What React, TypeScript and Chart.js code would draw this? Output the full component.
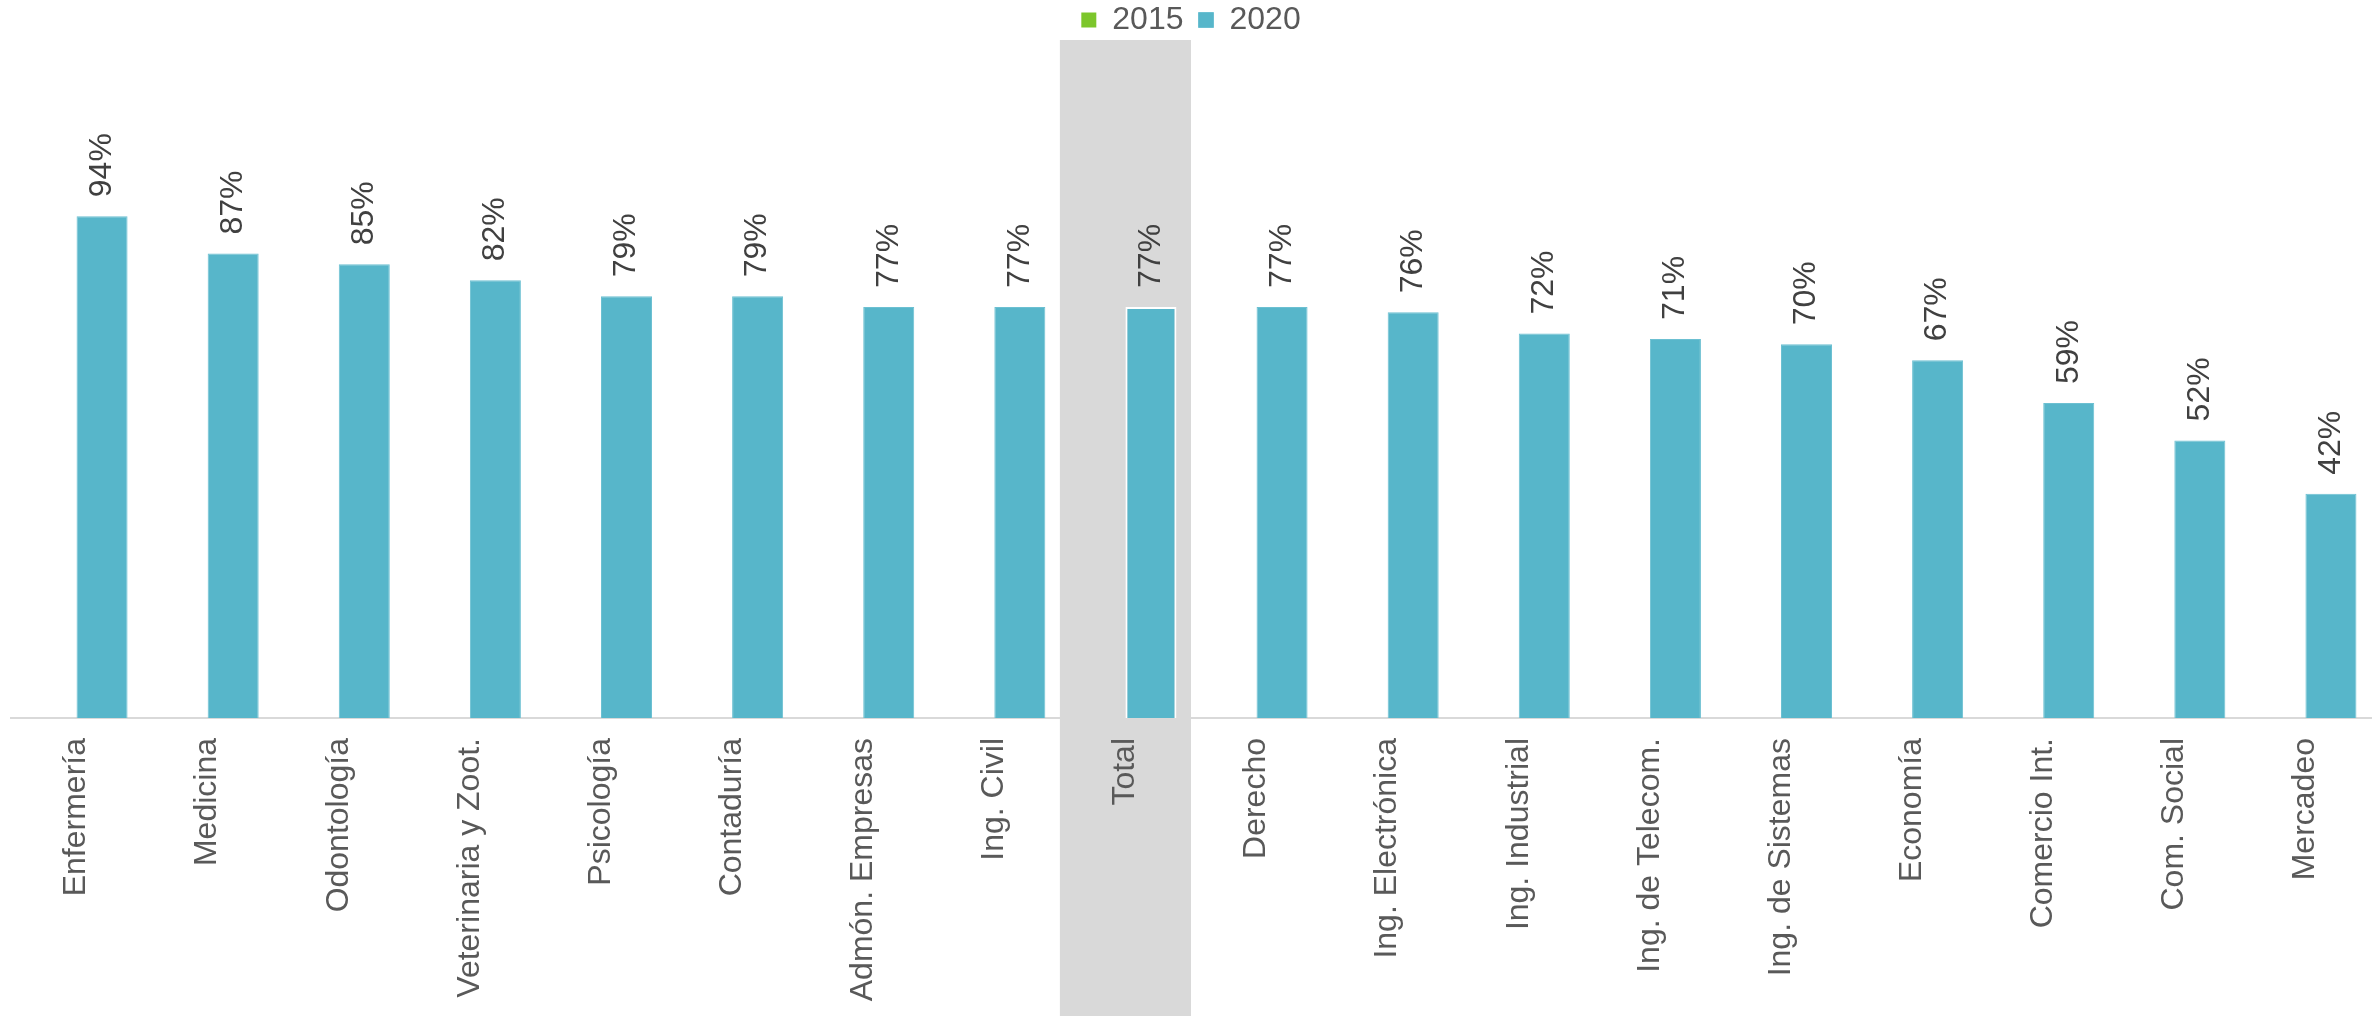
import React, { useEffect, useRef } from "react";
import { Chart, registerables } from "chart.js";

Chart.register(...registerables);

const categories = [
  "Enfermería",
  "Medicina",
  "Odontología",
  "Veterinaria y Zoot.",
  "Psicología",
  "Contaduría",
  "Admón. Empresas",
  "Ing. Civil",
  "Total",
  "Derecho",
  "Ing. Electrónica",
  "Ing. Industrial",
  "Ing. de Telecom.",
  "Ing. de Sistemas",
  "Economía",
  "Comercio Int.",
  "Com. Social",
  "Mercadeo",
];

const values2015: (number | null)[] = categories.map(() => null);
const values2020 = [94, 87, 85, 82, 79, 79, 77, 77, 77, 77, 76, 72, 71, 70, 67, 59, 52, 42];
const seriesNames = ["2015", "2020"];
const highlightCategory = "Total";

const FONT = "'Liberation Sans', Arial, sans-serif";

export default function App() {
  const ref = useRef<HTMLCanvasElement | null>(null);

  useEffect(() => {
    document.body.style.margin = "0";
    document.body.style.overflow = "hidden";
    const canvas = ref.current;
    if (!canvas) return;
    const hi = categories.indexOf(highlightCategory);

    const bandPlugin = {
      id: "band",
      beforeDatasetsDraw(chart: any) {
        const x = chart.scales.x;
        const w = x.width / categories.length;
        const cx = x.getPixelForValue(hi);
        const ctx = chart.ctx;
        ctx.save();
        ctx.fillStyle = "#D9D9D9";
        ctx.fillRect(cx - w / 2, chart.chartArea.top, w, chart.height - chart.chartArea.top);
        ctx.restore();
      },
    };

    const labelPlugin = {
      id: "vlabels",
      afterDatasetsDraw(chart: any) {
        const meta = chart.getDatasetMeta(1);
        const ctx = chart.ctx;
        ctx.save();
        ctx.fillStyle = "#404040";
        ctx.font = `32px ${FONT}`;
        ctx.textAlign = "left";
        ctx.textBaseline = "middle";
        meta.data.forEach((bar: any, i: number) => {
          const v = values2020[i];
          ctx.save();
          ctx.translate(bar.x, bar.y - 19);
          ctx.rotate(-Math.PI / 2);
          ctx.fillText(`${v}%`, 0, 0);
          ctx.restore();
        });
        ctx.restore();
      },
    };

    const chart = new Chart(canvas, {
      type: "bar",
      data: {
        labels: categories,
        datasets: [
          {
            label: seriesNames[0],
            data: values2015,
            backgroundColor: "#7CC62B",
            borderWidth: 0,
          },
          {
            label: seriesNames[1],
            data: values2020,
            backgroundColor: "#57B6CA",
            borderColor: categories.map((c) => (c === highlightCategory ? "#FFFFFF" : "#6CC0D2")),
            borderWidth: categories.map((c) => (c === highlightCategory ? 2 : 1)),
          },
        ],
      },
      options: {
        responsive: false,
        animation: false,
        layout: { padding: { left: 11, right: 8, top: -11, bottom: 0 } },
        datasets: {
          bar: { categoryPercentage: 0.778, barPercentage: 1 },
        },
        plugins: {
          legend: {
            display: true,
            position: "top",
            maxHeight: 51,
            labels: {
              boxWidth: 15,
              boxHeight: 15,
              padding: 15,
              color: "#595959",
              font: { size: 32, family: FONT },
            },
          },
          tooltip: { enabled: false },
        },
        scales: {
          x: {
            grid: { display: false, drawTicks: false },
            border: { display: true, color: "#D9D9D9", width: 2 },
            ticks: {
              z: 1,
              color: "#595959",
              font: { size: 32, family: FONT },
              padding: 20,
              minRotation: 90,
              maxRotation: 90,
              autoSkip: false,
            },
            afterFit(scale: any) {
              scale.height = 298;
            },
          },
          y: {
            display: false,
            min: 0,
            max: 127,
          },
        },
      },
      plugins: [bandPlugin, labelPlugin],
    });
    return () => chart.destroy();
  }, []);

  return (
    <div style={{ width: 2379, height: 1016 }}>
      <canvas ref={ref} width={2379} height={1016} style={{ display: "block" }} />
    </div>
  );
}
